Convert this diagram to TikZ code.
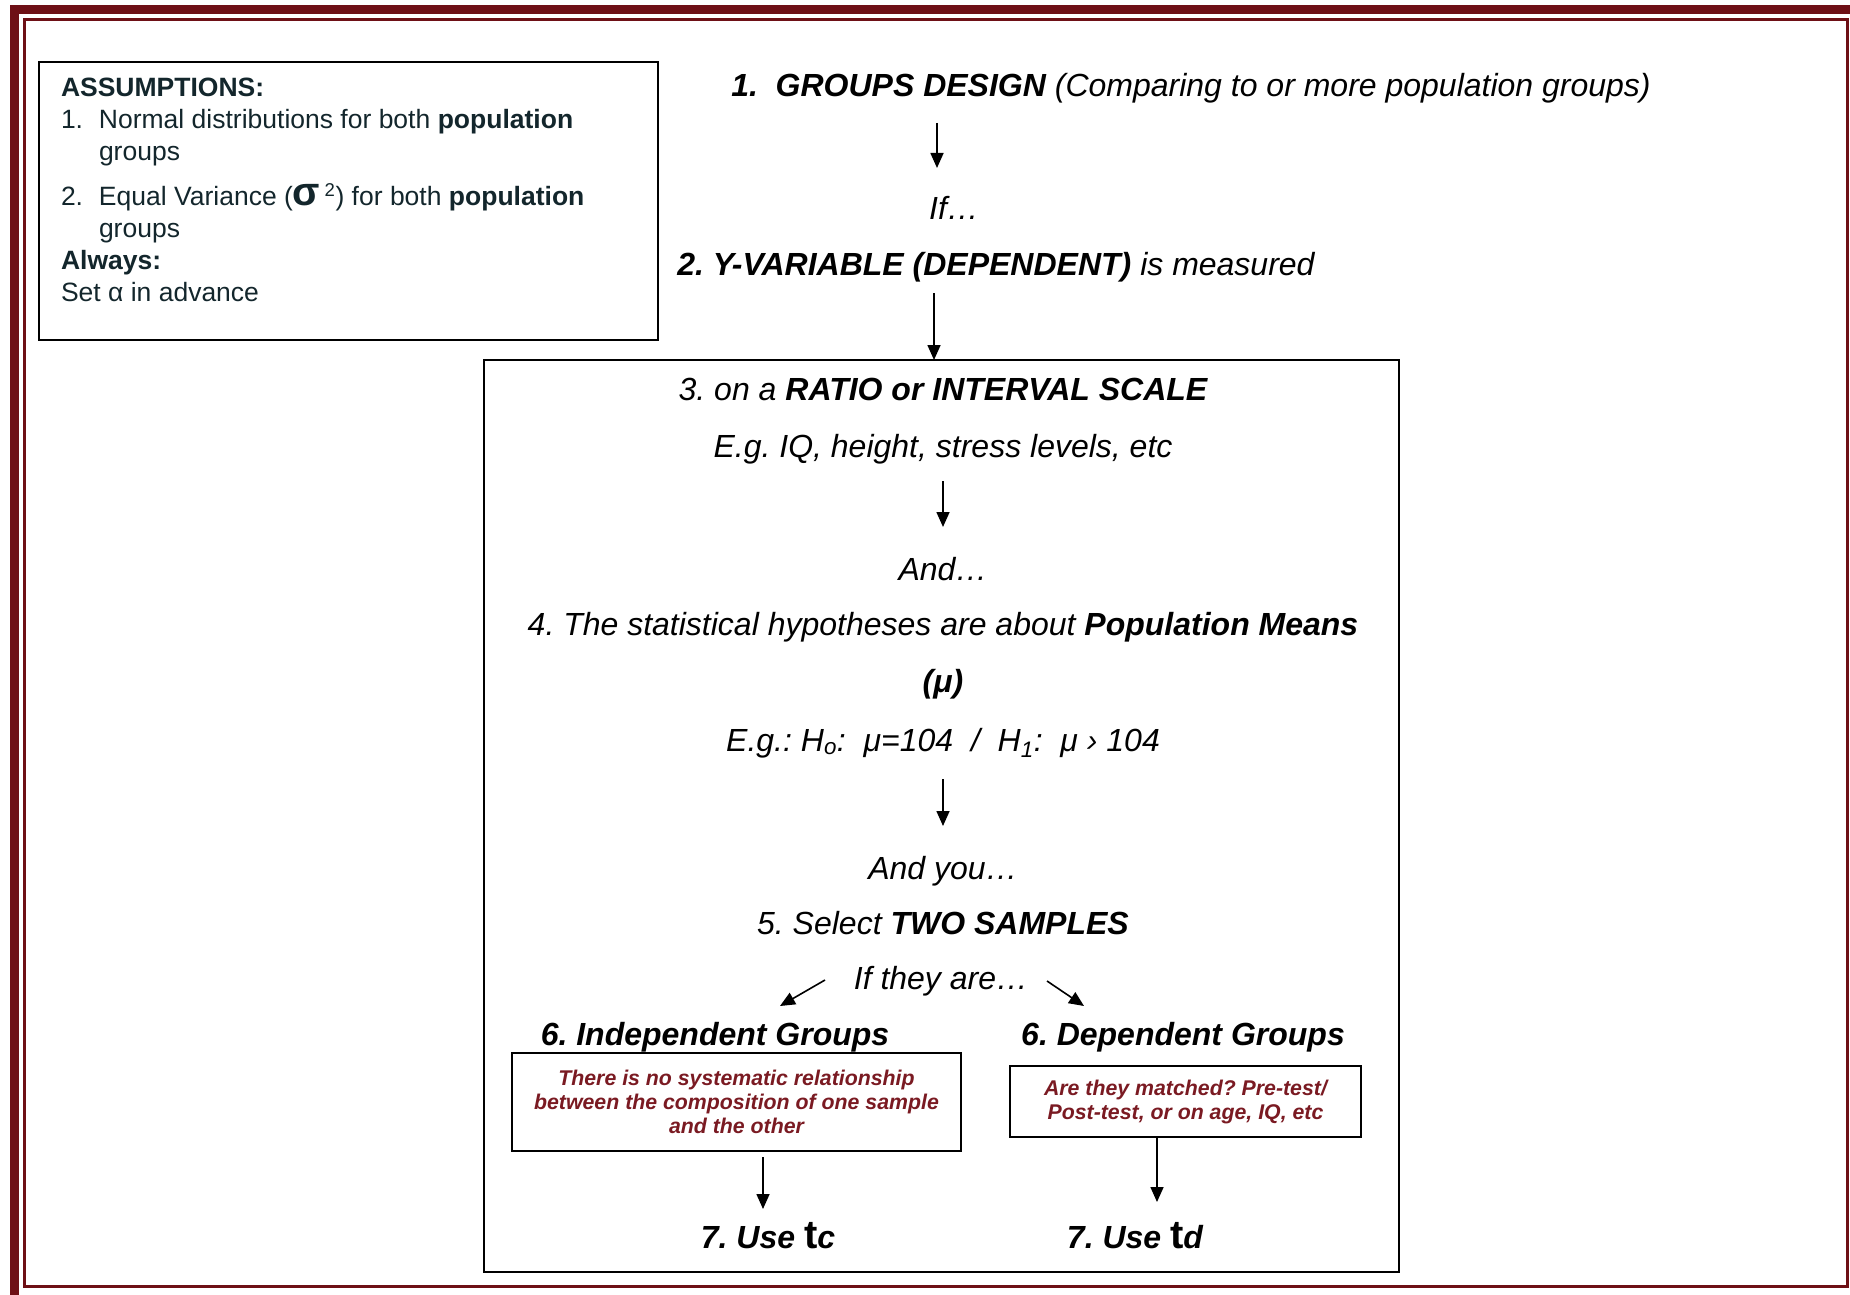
\documentclass[tikz,border=0pt]{standalone}
\usepackage{fontspec}
\setmainfont{Liberation Sans}
\usetikzlibrary{arrows.meta}
\definecolor{framered}{HTML}{6E1016}
\definecolor{notered}{HTML}{7A1A22}
\definecolor{asmink}{HTML}{13262C}
\newcommand{\fsz}[2]{\fontsize{#1}{#2}\selectfont}
\frenchspacing

\begin{document}
\begin{tikzpicture}[x=1pt,y=-1pt]
		\tikzstyle{every node}=[inner sep=0pt, outer sep=0pt]
		\tikzstyle{flow}=[anchor=base, font=\fsz{32}{38}\itshape]
		\tikzstyle{flowbf}=[anchor=base, font=\fsz{32}{38}\bfseries\itshape]
		\tikzstyle{box}=[draw, line width=2pt]
		\tikzstyle{note}=[align=center, font=\fsz{21.3}{24}\bfseries\itshape, text=notered]
		\tikzstyle{arr}=[line width=1.6pt, -{Triangle[length=15pt,width=13pt]}]
		\useasboundingbox (0,0) rectangle (1850,1295);
		%-----frame
		\draw[framered, line width=9pt] (14.5,9.5) rectangle (1865,1305);
		\draw[framered, line width=3pt] (24.5,19.5) rectangle (1847.5,1286);
		%-----assumptions
		\node[box, minimum width=619pt, minimum height=278pt, anchor=north west] (asm) at (39,62) {};
		\node[anchor=north west, align=left, font=\fsz{26.5}{32}, text=asmink] (asmtxt) at (61,78) {
			\textbf{ASSUMPTIONS:}\\
			\makebox[38pt][l]{1.}Normal distributions for both \textbf{population}\\
			\hspace*{38pt}groups\\[13pt]
			\makebox[38pt][l]{2.}Equal Variance ({\fsz{40}{32}\textbf{σ}}\,\textsuperscript{2}) for both \textbf{population}\\
			\hspace*{38pt}groups\\
			\textbf{Always:}\\
			Set α in advance};
		%-----top of the chart
		\node[flow] (ttl) at (1191,97) {\textbf{1.\ \ GROUPS DESIGN} (Comparing to or more population groups)};
		\node[flow] (iff) at (954,219) {If…};
		\node[flow] (yvar) at (996,275) {\textbf{2. Y-VARIABLE (DEPENDENT)} is measured};
		%-----big box
		\node[box, minimum width=915pt, minimum height=912pt] (bigbox) at (941.5,816) {};
		\node[flow] (scale) at (943,400) {3. on a \textbf{RATIO or INTERVAL SCALE}};
		\node[flow] (eg1) at (943,457) {E.g. IQ, height, stress levels, etc};
		\node[flow] (and1) at (943,580) {And…};
		\node[flow] (hyp) at (943,635) {4. The statistical hypotheses are about \textbf{Population Means}};
		\node[flowbf] (mu) at (943,692) {(μ)};
		\node[flow] (eg2) at (943,751) {E.g.: H\textsubscript{o}:\ \ μ=104\ \ /\ \ H\textsubscript{1}:\ \ μ › 104};
		\node[flow] (and2) at (943,879) {And you…};
		\node[flow] (two) at (943,934) {5. Select \textbf{TWO SAMPLES}};
		\node[flow] (they) at (941,989) {If they are…};
		%-----two branches
		\node[flowbf] (indep) at (715,1045) {6. Independent Groups};
		\node[flowbf] (dep) at (1183,1045) {6. Dependent Groups};
		\node[box, note, minimum width=449pt, minimum height=98pt] (indbox) at (736.5,1102) {There is no systematic relationship\\between the composition of one sample\\and the other};
		\node[box, note, minimum width=351pt, minimum height=71pt] (depbox) at (1185.5,1101.5) {Are they matched? Pre-test/\\Post-test, or on age, IQ, etc};
		\node[flowbf] (usec) at (768,1248) {7. Use {\upshape\fsz{40}{38}t}c};
		\node[flowbf] (used) at (1135,1248) {7. Use {\upshape\fsz{40}{38}t}d};
		%-----arrow ends
		\coordinate (a1s) at (937,123);  \coordinate (a1e) at (937,168);
		\coordinate (a2s) at (934,293);  \coordinate (a2e) at (a2s |- bigbox.north);
		\coordinate (a3s) at (943,481);  \coordinate (a3e) at (943,527);
		\coordinate (a4s) at (943,779);  \coordinate (a4e) at (943,826);
		\coordinate (bls) at (825,980);  \coordinate (ble) at (780,1006);
		\coordinate (brs) at (1047,981); \coordinate (bre) at (1084,1006);
		\coordinate (cls) at (763,1157); \coordinate (cle) at (763,1209);
		\coordinate (crs) at (1157,1137); \coordinate (cre) at (1157,1202);
		
		\foreach \from/\to in {a1s/a1e,a2s/a2e,a3s/a3e,a4s/a4e,bls/ble,brs/bre,cls/cle,crs/cre}
		\draw[arr] (\from) -- (\to);
		
\end{tikzpicture}
\end{document}
